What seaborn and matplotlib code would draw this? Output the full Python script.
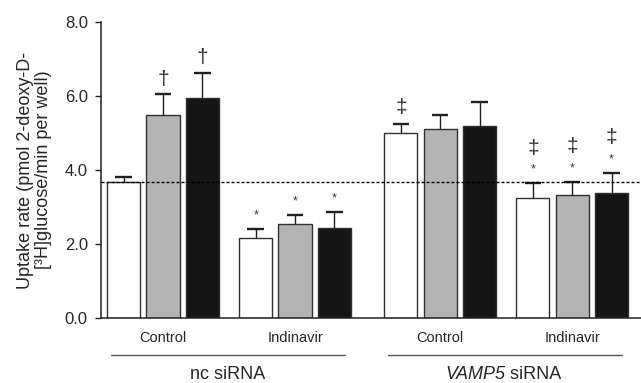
import numpy as np
import pandas as pd
import matplotlib
matplotlib.use("Agg")
import matplotlib.pyplot as plt
import matplotlib.transforms as mtransforms
import seaborn as sns

# values
sirna_groups = ["nc siRNA", "VAMP5 siRNA"]
treatments = ["Control", "Indinavir"]
conditions = ["white", "grey", "black"]

means = {
    ("nc siRNA", "Control"): [3.68, 5.50, 5.94],
    ("nc siRNA", "Indinavir"): [2.16, 2.55, 2.44],
    ("VAMP5 siRNA", "Control"): [4.99, 5.12, 5.20],
    ("VAMP5 siRNA", "Indinavir"): [3.26, 3.33, 3.39],
}
sems = {
    ("nc siRNA", "Control"): [0.13, 0.55, 0.69],
    ("nc siRNA", "Indinavir"): [0.26, 0.24, 0.44],
    ("VAMP5 siRNA", "Control"): [0.25, 0.37, 0.64],
    ("VAMP5 siRNA", "Indinavir"): [0.38, 0.35, 0.54],
}
marks = {
    ("nc siRNA", "Control"): ["", "†", "†"],
    ("nc siRNA", "Indinavir"): ["*", "*", "*"],
    ("VAMP5 siRNA", "Control"): ["‡", "", ""],
    ("VAMP5 siRNA", "Indinavir"): ["*‡", "*‡", "*‡"],
}
baseline = 3.68

rows = []
for gi, g in enumerate(sirna_groups):
    for ti, t in enumerate(treatments):
        for ci, c in enumerate(conditions):
            rows.append({"sirna": g, "treatment": t, "cond": c, "ci": ci,
                         "pos": gi * 2.1 + ti,
                         "mean": means[(g, t)][ci], "sem": sems[(g, t)][ci],
                         "mark": marks[(g, t)][ci]})
df = pd.DataFrame(rows)

sns.set_style("ticks")
plt.rcParams["font.family"] = ["Liberation Sans", "DejaVu Sans"]

fig = plt.figure(figsize=(6.41, 3.83), dpi=100)
ax = fig.add_axes([100.7 / 641, 1 - 318.3 / 383, (641 - 100.7) / 641, 296.3 / 383])

sns.barplot(data=df, x="pos", y="mean", hue="cond", hue_order=conditions,
            palette=["white", "#b4b4b4", "#151515"], native_scale=True,
            width=0.894, gap=0.16, errorbar=None, saturation=1,
            edgecolor="#303030", linewidth=1.0, legend=False, ax=ax)

# upper error bars on the bar centres seaborn placed
patches = sorted(ax.patches, key=lambda p: p.get_x())
d = df.sort_values(["pos", "ci"]).reset_index(drop=True)
xs = np.array([p.get_x() + p.get_width() / 2 for p in patches])
tops = d["mean"] + d["sem"]
ax.vlines(xs, d["mean"], tops, color="#202020", lw=1.0, zorder=3)
ax.hlines(tops, xs - 0.062, xs + 0.062, color="#202020", lw=1.7, zorder=3)

# significance marks
for x, top, mk in zip(xs, tops, d["mark"]):
    off = 0
    for ch in mk:
        if ch == "*":
            ax.annotate("*", (x, top), xytext=(0, 5.5), textcoords="offset points",
                        ha="center", va="bottom", fontsize=9, color="#333")
            off = 13
        elif ch == "†":
            ax.annotate("†", (x, top), xytext=(0, 4), textcoords="offset points",
                        ha="center", va="bottom", fontsize=15, color="#333")
        else:
            ax.annotate("‡", (x, top), xytext=(0, 5.5 + off), textcoords="offset points",
                        ha="center", va="bottom", fontsize=15, color="#333")

ax.axhline(baseline, color="black", lw=1.0, ls=(0, (2.2, 1.4)), zorder=4)

ax.set_ylim(0, 8)
ax.set_xlim(-0.472, 3.621)
ax.set_yticks([0, 2, 4, 6, 8])
ax.set_yticklabels([f"{v:.1f}" for v in [0, 2, 4, 6, 8]], fontsize=12)
group_pos = sorted(df["pos"].unique())
ax.set_xticks(group_pos)
ax.set_xticklabels(treatments * 2, fontsize=10.5)
ax.tick_params(axis="x", length=0, pad=9)
ax.tick_params(axis="y", length=4.3, width=1.0, pad=5, color="#222")
ax.set_xlabel("")
ax.set_ylabel("Uptake rate (pmol 2-deoxy-D-\n[³H]glucose/min per well)",
              fontsize=13, linespacing=1.1, labelpad=9)
sns.despine(ax=ax)
for sp in ["left", "bottom"]:
    ax.spines[sp].set_linewidth(1.1)
    ax.spines[sp].set_color("#222")

# siRNA group brackets under the treatment labels
trans = mtransforms.blended_transform_factory(ax.transData, ax.transAxes)
for gi, g in enumerate(sirna_groups):
    left = group_pos[2 * gi] - 0.394
    right = group_pos[2 * gi + 1] + 0.38
    ax.plot([left, right], [-0.124, -0.124], transform=trans, color="#555",
            lw=1.0, clip_on=False)
    mid = (left + right) / 2
    if g.startswith("VAMP5"):
        ax.text(mid, -0.19, "VAMP5", transform=trans, ha="right",
                va="center", fontsize=13, style="italic")
        ax.text(mid, -0.19, " siRNA", transform=trans, ha="left",
                va="center", fontsize=13)
    else:
        ax.text(mid, -0.19, g, transform=trans, ha="center",
                va="center", fontsize=13)

fig.savefig("out.png", dpi=100)
